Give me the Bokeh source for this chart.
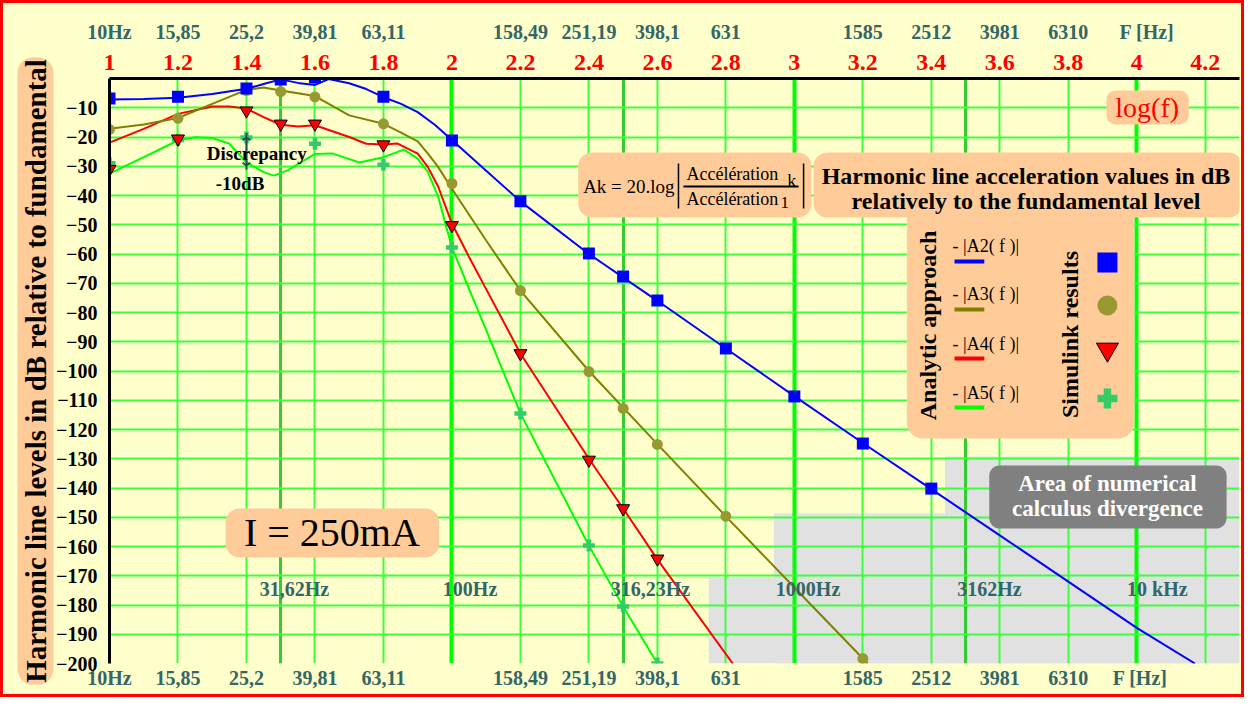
import math
from bokeh.plotting import figure
from bokeh.models import LinearAxis, FixedTicker, Grid, BoxAnnotation, Label, Range1d, Title
from bokeh.embed import file_html
from bokeh.resources import INLINE

# ---------------- data (log10 of frequency, dB relative to fundamental) ----------------
# Analytic approach curves
A2_f = [1.0, 1.1, 1.2, 1.3, 1.4, 1.45, 1.5, 1.55, 1.6, 1.64, 1.7, 1.75, 1.8, 1.85, 1.9, 1.95,
        2.0, 2.1, 2.2, 2.4, 2.6, 2.8, 3.0, 3.2, 3.4, 3.6, 3.8, 4.0, 4.17]
A2_v = [-7.2, -7.0, -6.6, -5.3, -3.5, -1.9, -0.3, -1.5, -2.2, -0.2, -1.6, -3.6, -6.4, -8.6, -11.5, -15.8,
        -21.0, -31.5, -42.0, -60.0, -76.0, -92.3, -108.6, -124.6, -140.4, -156.2, -172.0, -187.8, -200.0]

A3_f = [1.0, 1.1, 1.2, 1.3, 1.4, 1.45, 1.5, 1.6, 1.7, 1.8, 1.85, 1.9, 1.93, 1.96, 2.0, 2.1,
        2.2, 2.4, 2.6, 2.8, 3.0, 3.2, 3.214]
A3_v = [-17.2, -15.7, -13.5, -8.7, -3.9, -3.1, -4.1, -6.0, -12.6, -15.5, -18.4, -21.5, -25.7, -30.3, -37.7, -55.4,
        -72.5, -100.0, -125.0, -149.7, -174.0, -198.3, -200.0]

A4_f = [1.0, 1.1, 1.2, 1.3, 1.35, 1.4, 1.45, 1.5, 1.55, 1.6, 1.7, 1.75, 1.8, 1.84, 1.9, 1.93,
        1.96, 2.0, 2.05, 2.1, 2.2, 2.4, 2.5, 2.6, 2.82]
A4_v = [-21.9, -17.2, -12.1, -9.6, -9.6, -10.3, -13.2, -15.8, -16.4, -16.0, -20.0, -22.3, -22.6, -22.2, -25.7, -30.3,
        -37.0, -49.6, -61.0, -72.0, -94.0, -130.0, -147.0, -164.4, -200.0]

A5_f = [1.0, 1.1, 1.2, 1.25, 1.3, 1.35, 1.4, 1.45, 1.48, 1.52, 1.6, 1.65, 1.73, 1.8, 1.86, 1.9,
        1.93, 1.96, 2.0, 2.1, 2.2, 2.4, 2.5, 2.6]
A5_v = [-32.5, -26.9, -21.2, -20.1, -20.3, -22.3, -28.7, -32.0, -33.2, -31.4, -25.8, -25.6, -28.7, -26.9, -24.3, -27.4,
        -32.0, -40.5, -57.8, -86.0, -114.5, -159.7, -180.5, -200.0]

# Simulink results
S2_f = [1.0, 1.2, 1.4, 1.5, 1.6, 1.8, 2.0, 2.2, 2.4, 2.5, 2.6, 2.8, 3.0, 3.2, 3.4]
S2_v = [-6.8, -6.2, -3.4, -0.3, 0.3, -6.2, -21.2, -42.0, -59.8, -67.7, -75.9, -92.3, -108.7, -124.8, -140.2]
S3_f = [1.0, 1.2, 1.4, 1.5, 1.6, 1.8, 2.0, 2.2, 2.4, 2.5, 2.6, 2.8, 3.2]
S3_v = [-17.4, -13.6, -4.1, -4.5, -6.3, -15.5, -35.9, -72.5, -100.2, -112.8, -125.1, -149.7, -198.3]
S4_f = [1.0, 1.2, 1.4, 1.5, 1.6, 1.8, 2.0, 2.2, 2.4, 2.5, 2.6]
S4_v = [-31.0, -20.6, -11.0, -15.5, -15.5, -22.6, -50.2, -94.0, -130.4, -147.0, -164.2]
S5_f = [1.0, 1.2, 1.4, 1.6, 1.8, 2.0, 2.2, 2.4, 2.5, 2.6]
S5_v = [-29.0, -21.0, -20.2, -22.3, -29.5, -57.8, -114.5, -159.7, -180.5, -200.0]

# Discrepancy at 25,2 Hz
disc_f = [1.4]
disc_top = [-20.2]
disc_bot = [-29.7]

# Area of numerical calculus divergence (staircase)
div_left = [2.75, 2.94, 3.44]
div_top = [-170.5, -148.7, -129.2]

# axes
y_ticks = list(range(-200, 0, 10))
log_ticks = [1.0, 1.2, 1.4, 1.6, 1.8, 2.0, 2.2, 2.4, 2.6, 2.8, 3.0, 3.2, 3.4, 3.6, 3.8, 4.0, 4.2]
log_labels = ["1", "1.2", "1.4", "1.6", "1.8", "2", "2.2", "2.4", "2.6", "2.8", "3",
              "3.2", "3.4", "3.6", "3.8", "4", "4.2"]
freq_ticks = [1.0, 1.2, 1.4, 1.6, 1.8, 2.2, 2.4, 2.6, 2.8, 3.2, 3.4, 3.6, 3.8]
freq_labels = ["10Hz", "15,85", "25,2", "39,81", "63,11", "158,49", "251,19", "398,1", "631",
               "1585", "2512", "3981", "6310"]
unit_top_pos = 4.03
unit_bot_pos = 4.01
mid_pos = [1.54, 2.053, 2.58, 3.04, 3.57, 4.06]
mid_labels = ["31,62Hz", "100Hz", "316,23Hz", "1000Hz", "3162Hz", "10 kHz"]
mid_level = -174.7
grid_thin = [1.2, 1.4, 1.6, 1.8, 2.2, 2.4, 2.6, 2.8, 3.2, 3.4, 3.6, 3.8, 4.2]
grid_half = [1.5, 2.5, 3.5]
grid_dec = [2.0, 3.0, 4.0]

# ---------------- figure ----------------
W, H = 1244, 697           # includes a 3px CSS border (border-box)
ML, MR, MT, MB = 106, 8, 75, 37
X0, X1, Y0, Y1 = 1.0, 4.3, -200.0, 0.0
PPX = (W - ML - MR) / (X1 - X0)
PPY = (H - MT - MB) / (Y1 - Y0)
SX = (W - ML - MR) / (1247 - 109)   # reference px -> canvas px (horizontal, inside frame)


def X(px):  # reference pixel -> data x
    return X0 + (px - 109) * SX / PPX


def Y(py):  # reference pixel -> data y
    return Y1 - (py - 78) / PPY


SERIF = "Liberation Serif"
PEACH = "#FFCC99"
SLATE = "#336666"

p = figure(width=W, height=H, x_range=Range1d(X0, X1), y_range=Range1d(Y0, Y1),
           x_axis_type=None, y_axis_type=None, output_backend="svg", toolbar_location=None,
           min_border_left=ML, min_border_right=MR, min_border_top=MT, min_border_bottom=MB)
p.background_fill_color = "#FFFFCC"
p.border_fill_color = "#FFFFCC"
p.outline_line_color = None
p.styles = {"border": "3px solid #FF0000"}

# grids
for ticks, col, w in [(grid_thin, "#3CFF3C", 2), (grid_half, "#33CC33", 3), (grid_dec, "#00FF00", 4)]:
    p.add_layout(Grid(dimension=0, ticker=FixedTicker(ticks=ticks), grid_line_color=col,
                      grid_line_width=w))
p.add_layout(Grid(dimension=1, ticker=FixedTicker(ticks=y_ticks), grid_line_color="#3CFF3C",
                  grid_line_width=2))

# divergence area
p.quad(left=div_left, right=[X1] * len(div_left), bottom=[Y0] * len(div_left), top=div_top,
       fill_color="#E1E1E1", line_color=None, level="image")

# axes
ax_left = LinearAxis(ticker=FixedTicker(ticks=y_ticks))
ax_left.axis_line_color = "black"
ax_left.axis_line_width = 3
ax_left.major_tick_line_color = None
ax_left.minor_tick_line_color = None
ax_left.major_label_standoff = 6
ax_left.major_label_text_font = SERIF
ax_left.major_label_text_font_size = "20px"
ax_left.major_label_text_font_style = "bold"
ax_left.major_label_text_color = "black"
p.add_layout(ax_left, "left")

ytitle = Title(text="Harmonic line levels in dB relative to fundamental", align="center",
               text_font=SERIF, text_font_size="29px", text_font_style="bold", text_color="black",
               background_fill_color=PEACH, background_fill_alpha=1.0,
               padding=2, border_radius=16, standoff=0)
p.add_layout(ytitle, "left")

ax_red = LinearAxis(ticker=FixedTicker(ticks=log_ticks),
                    major_label_overrides={t: s for t, s in zip(log_ticks, log_labels)})
ax_red.axis_line_color = "black"
ax_red.axis_line_width = 3
ax_red.major_tick_line_color = None
ax_red.minor_tick_line_color = None
ax_red.major_label_standoff = 3
ax_red.major_label_text_font = SERIF
ax_red.major_label_text_font_size = "24px"
ax_red.major_label_text_font_style = "bold"
ax_red.major_label_text_color = "#FF0000"
p.add_layout(ax_red, "above")

for loc, upos in [("above", unit_top_pos), ("below", unit_bot_pos)]:
    tk = freq_ticks + [upos]
    lb = freq_labels + ["F [Hz]"]
    ax = LinearAxis(ticker=FixedTicker(ticks=tk), major_label_overrides={t: s for t, s in zip(tk, lb)})
    ax.axis_line_color = None
    ax.major_tick_line_color = None
    ax.minor_tick_line_color = None
    ax.major_label_standoff = 3 if loc == "above" else -3
    ax.major_label_text_font = SERIF
    ax.major_label_text_font_size = "20px"
    ax.major_label_text_font_style = "bold"
    ax.major_label_text_color = SLATE
    p.add_layout(ax, loc)

# analytic curves
p.line(A5_f, A5_v, line_color="#00FF00", line_width=2)
p.line(A4_f, A4_v, line_color="#FF0000", line_width=2)
p.line(A3_f, A3_v, line_color="#808000", line_width=2)
p.line(A2_f, A2_v, line_color="#0000FF", line_width=2)

# simulink markers
p.scatter(S3_f, S3_v, marker="circle", size=11, fill_color="#999933", line_color=None)
p.scatter(S5_f, S5_v, marker="plus", size=12, fill_color="#33CC66", line_color=None)
p.scatter(S4_f, S4_v, marker="inverted_triangle", size=13, fill_color="#FF0000",
          line_color="black", line_width=1)
p.scatter(S2_f, S2_v, marker="square", size=12, fill_color="#0000FF", line_color=None)

# discrepancy bar
DISC = "#1E5050"
p.segment(x0=disc_f, y0=disc_top, x1=disc_f, y1=disc_bot, line_color=DISC, line_width=2)
p.scatter(disc_f, disc_top, marker="y", size=9, line_color=DISC, line_width=2, angle=math.pi)
p.scatter(disc_f, disc_bot, marker="y", size=9, line_color=DISC, line_width=2)


# ---------------- annotations ----------------
def box(l, t, r, b, color=PEACH, radius=14):
    p.add_layout(BoxAnnotation(left=X(l), right=X(r), top=Y(t), bottom=Y(b), fill_color=color,
                               fill_alpha=1, line_color=None, border_radius=radius))


def label(px, py, text, size, color="black", style="normal", align="center", angle=0.0):
    p.add_layout(Label(x=X(px), y=Y(py), text=text, text_font=SERIF, text_font_size=f"{size}px",
                       text_font_style=style, text_color=color, text_align=align,
                       text_baseline="middle", angle=angle))


box(1113, 90, 1196, 124, radius=9)
box(581, 152, 816, 217)
box(912, 200, 1141, 438, radius=16)
box(818, 152, 1250, 217)
box(226, 508, 441, 557)
box(995, 465, 1234, 528, color="#808080", radius=10)

label(1154, 107, "log(f)", 28, color="#FF0000")
label(586, 186, "Ak = 20.log", 19, align="left")
label(690, 173, "Accélération", 18, align="left")
label(796, 180, "k", 18)
label(690, 198, "Accélération", 18, align="left")
label(789, 202, "1", 17)
label(1032, 175, "Harmonic line acceleration values in dB", 24, style="bold")
label(1032, 200, "relatively to the fundamental level", 24, style="bold")
label(933, 325, "Analytic approach", 24, style="bold", angle=math.pi / 2)
label(1076, 334, "Simulink results", 24, style="bold", angle=math.pi / 2)
for i, k in enumerate(["A2", "A3", "A4", "A5"]):
    label(958, [245, 293, 343, 392][i], f"- |{k}( f )|", 18, align="left")
label(333, 532, "I = 250mA", 40)
label(1114, 483, "Area of numerical", 23, color="white", style="bold")
label(1114, 508, "calculus divergence", 23, color="white", style="bold")
label(207, 153, "Discrepancy", 19, style="bold", align="left")
label(216, 183, "-10dB", 19, style="bold", align="left")
for pos, txt in zip(mid_pos, mid_labels):
    p.add_layout(Label(x=pos, y=mid_level, text=txt, text_font=SERIF, text_font_size="20px",
                       text_font_style="bold", text_color=SLATE, text_align="center",
                       text_baseline="middle"))

# overlay decorations inside boxes (formula bars, legend samples)
p.segment(x0=[X(682), X(808), X(687)], y0=[Y(163), Y(163), Y(186)],
          x1=[X(682), X(808), X(803)], y1=[Y(208), Y(208), Y(186)],
          line_color="black", line_width=[1.5, 1.5, 2], level="overlay")
leg_y = [261, 309, 358, 407]
leg_cols = ["#0000FF", "#808000", "#FF0000", "#00FF00"]
p.segment(x0=[X(960)] * 4, x1=[X(990)] * 4, y0=[Y(v) for v in leg_y], y1=[Y(v) for v in leg_y],
          line_color=leg_cols, line_width=4, level="overlay")
p.scatter([X(1114)], [Y(262)], marker="square", size=20, fill_color="#0000FF", line_color=None, level="overlay")
p.scatter([X(1114)], [Y(305)], marker="circle", size=20, fill_color="#999933", line_color=None, level="overlay")
p.scatter([X(1114)], [Y(349)], marker="inverted_triangle", size=22, fill_color="#FF0000",
          line_color="black", line_width=1, level="overlay")
p.scatter([X(1114)], [Y(398)], marker="plus", size=20, fill_color="#33CC66", line_color=None, level="overlay")

open("out.html", "w").write(file_html(p, INLINE))
